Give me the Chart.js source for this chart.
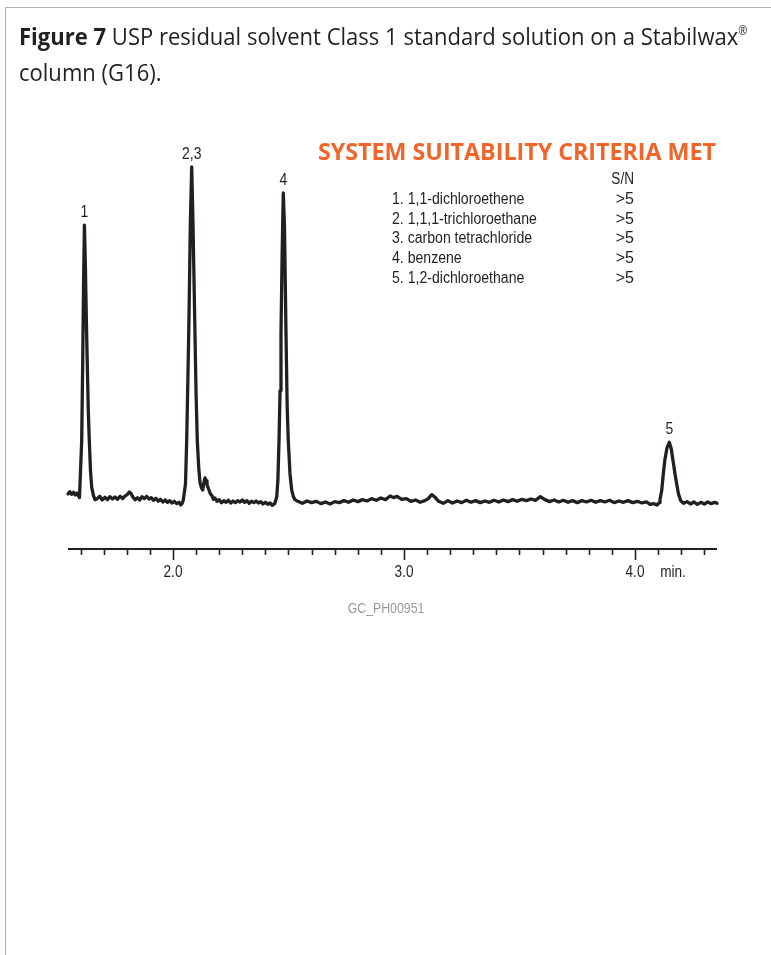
<!DOCTYPE html>
<html>
<head>
<meta charset="utf-8">
<script src="https://cdn.jsdelivr.net/npm/chart.js@4.4.1/dist/chart.umd.min.js"></script>
<style>
  html, body { margin: 0; padding: 0; background: #fff; }
  body { width: 771px; height: 955px; position: relative; overflow: hidden; }
  #frame { position: absolute; left: 5px; top: 7px; right: -2px; bottom: -2px;
           border-top: 1.5px solid #b3b3b3; border-left: 1.5px solid #b3b3b3; }
  #title { position: absolute; left: 19px; top: 20px; font-family: 'Open Sans', sans-serif;
           font-size: 24px; line-height: 31px; color: #231f20; white-space: nowrap;
           transform-origin: 0 0; }
  #title b { font-weight: 700; }
  #title sup { font-size: 12px; vertical-align: 0; position: relative; top: -10px; }
  canvas { position: absolute; left: 0; top: 0; }
</style>
</head>
<body>
<div id="frame"></div>
<canvas id="chart" width="771" height="955"></canvas>
<div id="title"><span id="line1"><b>Figure 7</b> USP residual solvent Class 1 standard solution on a Stabilwax<sup>®</sup></span><br>column (G16).</div>
<script>
// Chromatogram trace: retention time (min) and detector signal (relative units)
const retentionTime = [
  1.5455, 1.553, 1.561, 1.569, 1.577, 1.585, 1.591, 1.5952,
  1.6048, 1.6091, 1.6130, 1.6165, 1.6203, 1.6247, 1.6290, 1.6333, 1.6377, 1.6429, 1.6481, 1.6558, 1.6623,
  1.672, 1.683, 1.694, 1.705, 1.716, 1.727, 1.738, 1.749, 1.760, 1.771, 1.782, 1.793, 1.803, 1.811, 1.818,
  1.826, 1.836, 1.846, 1.856, 1.866, 1.876, 1.886, 1.896, 1.906, 1.916, 1.926, 1.936, 1.946, 1.956, 1.966,
  1.976, 1.986, 1.996, 2.006, 2.016, 2.026, 2.034, 2.040,
  2.0446, 2.0541, 2.0593, 2.0649, 2.0693, 2.0749, 2.0810, 2.0866, 2.0939, 2.0996, 2.1052, 2.1113, 2.1169,
  2.1230, 2.1286, 2.1340, 2.1385, 2.1430, 2.1472, 2.1558, 2.1620, 2.1688, 2.1750, 2.1818,
  2.190, 2.200, 2.210, 2.220, 2.230, 2.240, 2.250, 2.260, 2.270, 2.280, 2.290, 2.300, 2.310, 2.320, 2.330,
  2.340, 2.350, 2.360, 2.370, 2.380, 2.390, 2.400, 2.410, 2.420, 2.430, 2.440,
  2.4489, 2.4540, 2.4590, 2.4635, 2.4675, 2.4725, 2.4775, 2.4827, 2.4892, 2.4944, 2.4991, 2.5065, 2.5139,
  2.5210, 2.5281,
  2.540, 2.560, 2.580, 2.600, 2.620, 2.640, 2.660, 2.680, 2.700, 2.720, 2.740, 2.760, 2.780, 2.800, 2.820,
  2.840, 2.860, 2.880, 2.900, 2.920, 2.940, 2.955, 2.970, 2.990, 3.010, 3.030, 3.050, 3.070, 3.090, 3.105,
  3.120, 3.135, 3.150, 3.170, 3.190, 3.210, 3.230, 3.250, 3.270, 3.290, 3.310, 3.330, 3.350, 3.370, 3.390,
  3.410, 3.430, 3.450, 3.470, 3.490, 3.510, 3.530, 3.550, 3.570, 3.590, 3.610, 3.630, 3.650, 3.670, 3.690,
  3.710, 3.730, 3.750, 3.770, 3.790, 3.810, 3.830, 3.850, 3.870, 3.890, 3.910, 3.930, 3.950, 3.970, 3.990,
  4.010, 4.030, 4.050, 4.065, 4.080, 4.095, 4.105,
  4.1082, 4.1156, 4.1225, 4.1299, 4.1385, 4.1485, 4.1571, 4.1645, 4.1732, 4.1805, 4.1883, 4.1978,
  4.210, 4.225, 4.240, 4.255, 4.270, 4.285, 4.300, 4.315, 4.330, 4.345, 4.355
];
const signal = [
  2.0, 2.7, 1.9, 2.5, 1.7, 2.3, 1.4, 0.9,
  18, 41, 66, 82.6, 72, 55, 41, 27, 18, 9, 4, 1.5, 0.3,
  0.6, 1.3, 0.2, 1.0, 0.3, 1.2, 0.5, 1.1, 0.4, 1.3, 0.6, 1.4, 1.9, 2.6, 2.2,
  1.1, 0.3, 0.9, 0.2, 1.2, 0.6, 1.3, 0.5, 0.9, 0.1, 0.7, -0.2, 0.4, -0.4, 0.2,
  -0.5, 0.0, -0.7, -0.2, -0.9, -0.5, -1.3, -0.8,
  0.2, 5, 18, 38, 55, 82, 100, 83, 55, 33, 18, 10, 5.5,
  3.8, 3.2, 5.5, 6.8, 6.0, 4.8, 3.2, 2.0, 1.5, 0.4, 0.8,
  -0.2, 0.3, -0.6, 0.0, -0.5, 0.1, -0.7, -0.1, -0.6, 0.0, -0.4, 0.2, -0.5, 0.0, -0.8,
  -0.2, -0.6, -0.1, -0.7, -0.3, -1.0, -0.5, -1.1, -0.7, -1.4, -0.9,
  1, 6, 18, 33, 50, 74, 92.2, 82, 50, 28, 18, 8, 3.2,
  1.2, 0.3,
  -0.2, -0.8, -0.1, -0.6, -0.2, -0.9, -0.4, -1.0, -0.3, -0.6, 0.0, -0.5, 0.2, -0.3, 0.3,
  -0.1, 0.6, 0.1, 0.8, 0.3, 1.4, 0.9, 1.3, 0.4, 0.6, -0.2, 0.2, -0.5, 0.0, 0.6,
  1.8, 1.0, -0.2, -0.8, 0.0, -0.7, -0.1, -0.6, 0.1, -0.5, 0.0, -0.6, -0.1, -0.5, 0.1,
  -0.4, 0.2, -0.3, 0.3, -0.2, 0.4, 0.0, 0.5, 0.1, 1.2, 0.3, -0.3, 0.2, -0.4, 0.1,
  -0.5, 0.0, -0.6, 0.0, -0.4, 0.1, -0.5, 0.0, -0.4, 0.1, -0.6, -0.1, -0.5, 0.0, -0.6,
  -0.2, -0.7, -0.4, -1.1, -0.9, -1.3, -0.6,
  0.3, 3, 8, 12.5, 15.8, 17.5, 15.5, 12, 8, 5, 2, 0,
  -0.8, -0.3, -1.0, -0.4, -1.1, -0.5, -1.0, -0.4, -0.9, -0.5, -0.8
];

// Axis
const timeMin = 1.5455;
const timeMax = 4.355;
const tickValues = [2.0, 3.0, 4.0];
const tickLabels = ['2.0', '3.0', '4.0'];
const unitLabel = 'min.';

// Peak identification
const peakTimes = [1.6165, 2.0810, 2.4775, 4.1485];
const peakLabels = ['1', '2,3', '4', '5'];

// Compound table
const headline = 'SYSTEM SUITABILITY CRITERIA MET';
const compounds = ['1. 1,1-dichloroethene', '2. 1,1,1-trichloroethane', '3. carbon tetrachloride',
                   '4. benzene', '5. 1,2-dichloroethane'];
const snHeader = 'S/N';
const snRatios = ['>5', '>5', '>5', '>5', '>5'];
const docCode = 'GC_PH00951';

const INK = '#231f20';
const ORANGE = '#f1652a';
const FONT = "'Liberation Sans', Arial, sans-serif";

function drawText(ctx, text, x, y, font, color, align, sx) {
  ctx.save();
  ctx.font = font;
  ctx.fillStyle = color;
  ctx.textAlign = 'left';
  ctx.textBaseline = 'alphabetic';
  const w = ctx.measureText(text).width * sx;
  const left = align === 'center' ? x - w / 2 : align === 'right' ? x - w : x;
  ctx.translate(left, y);
  ctx.scale(sx, 1);
  ctx.fillText(text, 0, 0);
  ctx.restore();
}

const decorations = {
  id: 'decorations',
  afterDatasetsDraw(chart) {
    const { ctx, chartArea, scales: { x, y } } = chart;

    // time axis
    const axisY = chartArea.bottom + 15;
    ctx.save();
    ctx.strokeStyle = INK;
    ctx.lineWidth = 2;
    ctx.beginPath();
    ctx.moveTo(x.getPixelForValue(timeMin), axisY);
    ctx.lineTo(x.getPixelForValue(timeMax), axisY);
    ctx.stroke();
    ctx.lineWidth = 1.6;
    for (let i = 16; i <= 43; i++) {
      const px = Math.round(x.getPixelForValue(i / 10)) + 0.5;
      const len = i % 10 === 0 ? 11 : 6;
      ctx.beginPath();
      ctx.moveTo(px, axisY);
      ctx.lineTo(px, axisY + len);
      ctx.stroke();
    }
    ctx.restore();
    const tickFont = '16px ' + FONT;
    tickValues.forEach((v, i) => {
      drawText(ctx, tickLabels[i], x.getPixelForValue(v), axisY + 28, tickFont, INK, 'center', 0.85);
    });
    drawText(ctx, unitLabel, x.getPixelForValue(tickValues[tickValues.length - 1]) + 38, axisY + 28,
             tickFont, INK, 'center', 0.85);

    // peak numbers above each apex
    peakTimes.forEach((t, i) => {
      let best = -1;
      retentionTime.forEach((rt, k) => {
        if (Math.abs(rt - t) < 0.006 && (best < 0 || signal[k] > signal[best])) best = k;
      });
      const px = x.getPixelForValue(retentionTime[best]);
      const py = y.getPixelForValue(signal[best]);
      drawText(ctx, peakLabels[i], px, py - 8, '17px ' + FONT, INK, 'center', 0.82);
    });

    // headline, fitted to its box
    ctx.save();
    ctx.font = "bold 24px 'Open Sans', sans-serif";
    const hw = ctx.measureText(headline).width;
    ctx.restore();
    drawText(ctx, headline, 318, 160, "bold 24px 'Open Sans', sans-serif", ORANGE, 'left', 398 / hw);

    // compound table
    const listFont = '16px ' + FONT;
    drawText(ctx, snHeader, 634, 184, listFont, INK, 'right', 0.85);
    compounds.forEach((c, i) => {
      const by = 204 + i * 19.65;
      drawText(ctx, c, 392, by, listFont, INK, 'left', 0.88);
      drawText(ctx, snRatios[i], 634, by, listFont, INK, 'right', 1.0);
    });

    drawText(ctx, docCode, 386, 613, '14px ' + FONT, '#9a9a9a', 'center', 0.88);
  }
};

const points = retentionTime.map((t, i) => ({ x: t, y: signal[i] }));

new Chart(document.getElementById('chart'), {
  type: 'line',
  data: {
    datasets: [{
      data: points,
      borderColor: INK,
      borderWidth: 3.3,
      borderCapStyle: 'round',
      borderJoinStyle: 'round',
      pointRadius: 0,
      tension: 0,
      clip: false
    }]
  },
  options: {
    responsive: false,
    animation: false,
    devicePixelRatio: 1,
    layout: { padding: { left: 68, right: 54, top: 167, bottom: 421 } },
    scales: {
      x: { type: 'linear', min: timeMin, max: timeMax, display: false },
      y: { min: -10, max: 100, display: false }
    },
    plugins: { legend: { display: false }, tooltip: { enabled: false } }
  },
  plugins: [decorations]
});

// keep the caption's first line to its column width
const line1 = document.getElementById('line1');
const title = document.getElementById('title');
const fit = () => { title.style.transform = 'scaleX(' + (728 / line1.offsetWidth) + ')'; };
fit();
if (document.fonts && document.fonts.ready) document.fonts.ready.then(fit);
</script>
</body>
</html>
